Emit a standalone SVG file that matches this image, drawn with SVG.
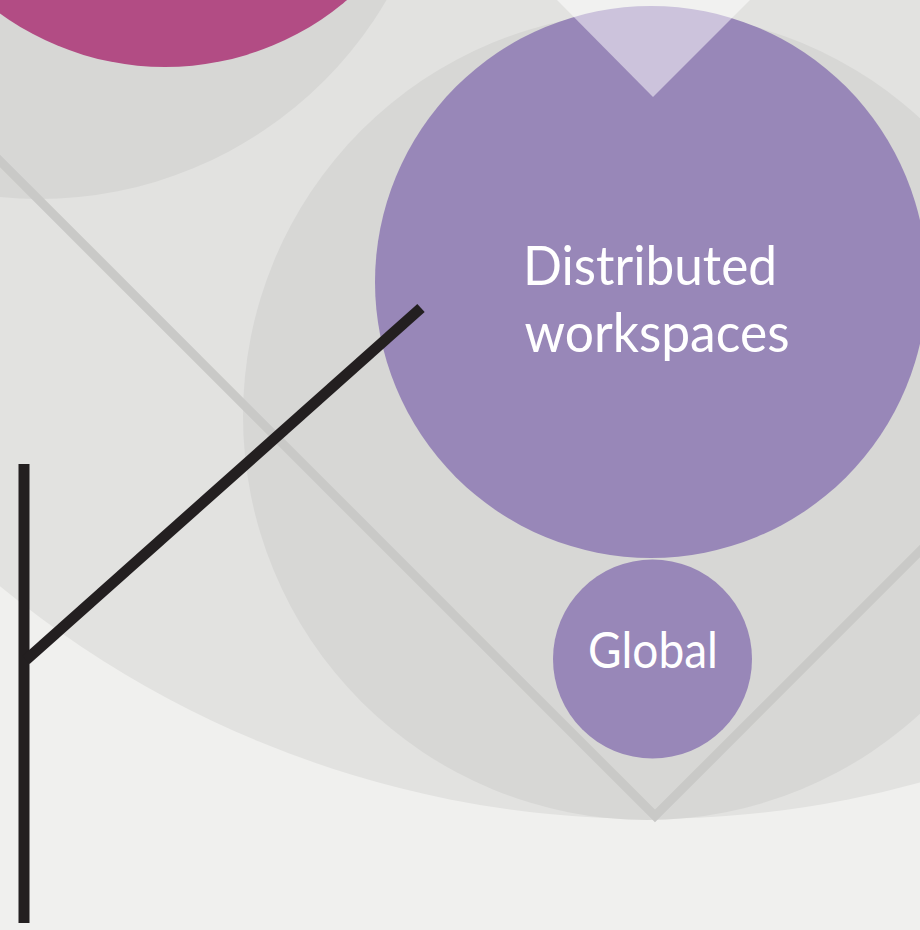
<svg xmlns="http://www.w3.org/2000/svg" width="920" height="930" viewBox="0 0 920 930">
  <style>
    .bg { fill: #f0f0ee; }
    .light { fill: #e2e2e0; }
    .dark { fill: #d7d7d5; }
    .magenta { fill: #b24c84; }
    .purple { fill: #9887b8; }
    .guide { fill: none; stroke: #c9c9c7; stroke-width: 9; stroke-linejoin: miter; }
    .overlay { fill: #ffffff; fill-opacity: 0.5; }
    .label { fill: #ffffff; font-family: Lato, "Open Sans", "Liberation Sans", sans-serif; font-weight: 400; text-anchor: middle; }
    .conn { stroke: #231f20; stroke-width: 11; fill: none; stroke-linecap: butt; }
  </style>
  <rect class="bg" x="0" y="0" width="920" height="930"/>
  <g id="background">
    <circle class="light" cx="649" cy="-202" r="1021"/>
    <circle class="dark" cx="39" cy="-204" r="403"/>
    <circle class="magenta" cx="165" cy="-214" r="281"/>
    <circle class="dark" cx="647" cy="416" r="404"/>
    <polyline class="guide" points="-10,151 655,816 930,541"/>
  </g>
  <g id="node-distributed">
    <circle class="purple" cx="651" cy="282" r="276"/>
    <text class="label" x="650" y="285" font-size="54" textLength="254" lengthAdjust="spacingAndGlyphs">Distributed</text>
    <text class="label" x="657" y="352" font-size="54" textLength="265" lengthAdjust="spacingAndGlyphs">workspaces</text>
  </g>
  <g id="node-global">
    <circle class="purple" cx="652.5" cy="659" r="99.5"/>
    <text class="label" x="653" y="668" font-size="50" textLength="130" lengthAdjust="spacingAndGlyphs">Global</text>
  </g>
  <polygon id="top-triangle" class="overlay" points="557,0 653,97 750,0"/>
  <g id="connectors">
    <line class="conn" x1="24" y1="464" x2="24" y2="923"/>
    <line class="conn" x1="26" y1="660" x2="421" y2="308"/>
  </g>
</svg>
